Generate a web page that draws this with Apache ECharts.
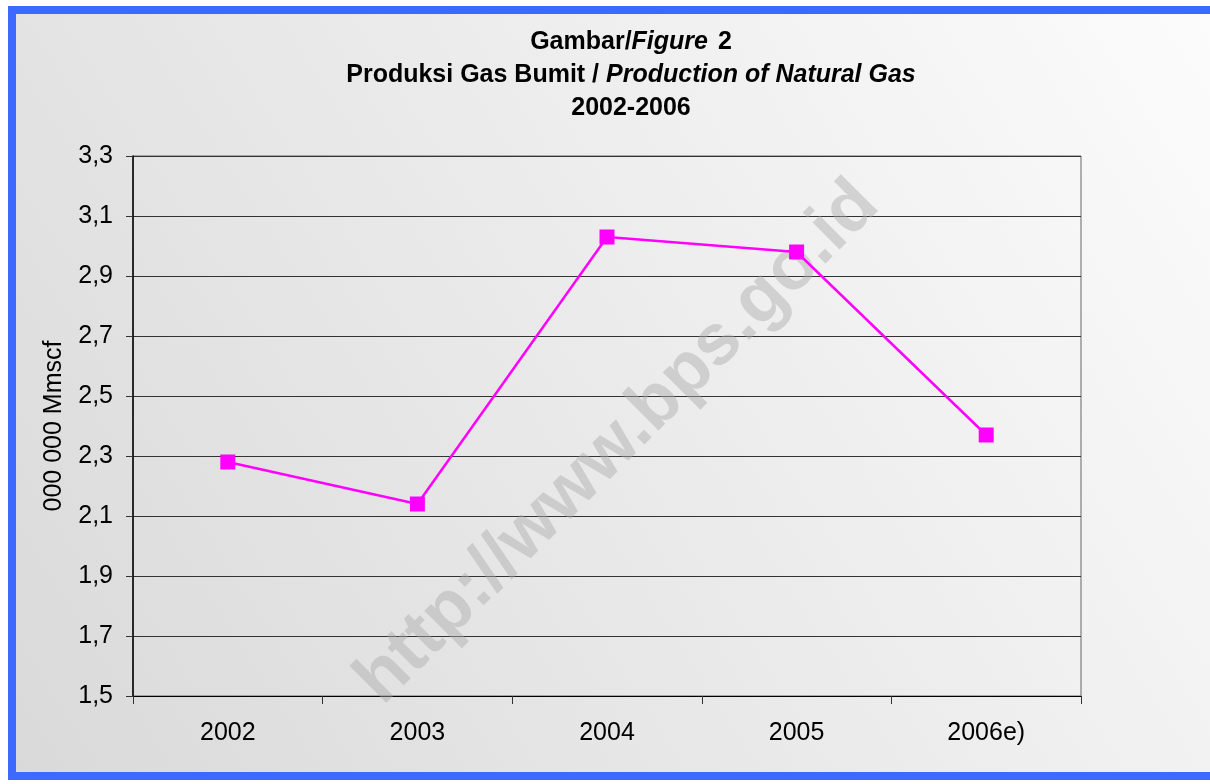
<!DOCTYPE html>
<html>
<head>
<meta charset="utf-8">
<script src="https://cdn.jsdelivr.net/npm/echarts@6/dist/echarts.min.js"></script>
<style>
  html, body { margin: 0; padding: 0; background: #ffffff; }
  #main { width: 1210px; height: 784px; }
</style>
</head>
<body>
<div id="main"></div>
<script>
const years = ['2002', '2003', '2004', '2005', '2006e)']
const production = [2.28, 2.14, 3.03, 2.98, 2.37]
const yMin = 1.5
const yMax = 3.3
const yStep = 0.2

const chart = echarts.init(document.getElementById('main'), null, { renderer: 'canvas' })

const font = '"Liberation Sans", Arial, sans-serif'

let option = {
  backgroundColor: '#ffffff',
  animation: false,
  title: {
    left: 626,
    textAlign: 'center',
    top: 21,
    textStyle: {
      fontFamily: font,
      lineHeight: 33,
      rich: {
        b: { fontSize: 25, fontWeight: 'bold', color: '#000', fontFamily: font, lineHeight: 33 },
        bi: { fontSize: 25, fontWeight: 'bold', fontStyle: 'italic', color: '#000', fontFamily: font, lineHeight: 33 },
        n: { fontSize: 25, fontWeight: 'bold', color: '#000', fontFamily: font, lineHeight: 33, padding: [0, 0, 0, 3] }
      }
    },
    text: '{b|Gambar/}{bi|Figure}{n| 2}\n{b|Produksi Gas Bumit / }{bi|Production of Natural Gas}\n{b|2002-2006}'
  },
  graphic: [
    {
      type: 'rect',
      z: -10,
      silent: true,
      shape: { x: 12, y: 10, width: 1206, height: 766 },
      style: {
        fill: new echarts.graphic.LinearGradient(1, 0, 0, 1, [
          { offset: 0, color: '#fcfcfc' },
          { offset: 1, color: '#d9d9d9' }
        ]),
        stroke: '#3d69ff',
        lineWidth: 8
      }
    },
    {
      type: 'text',
      z: 1,
      silent: true,
      x: 618,
      y: 443,
      rotation: Math.PI / 4,
      style: {
        text: 'http://www.bps.go.id',
        fontFamily: font,
        fontSize: 72,
        fontWeight: 'bold',
        fill: 'rgba(170,170,170,0.45)',
        align: 'center',
        verticalAlign: 'middle'
      }
    }
  ],
  grid: {
    left: 133,
    right: 129,
    top: 156,
    bottom: 88,
    show: true,
    borderColor: '#666',
    borderWidth: 1,
    backgroundColor: 'transparent'
  },
  xAxis: {
    type: 'category',
    data: years,
    boundaryGap: true,
    axisLine: { lineStyle: { color: '#000', width: 1 } },
    axisTick: { show: true, length: 8, lineStyle: { color: '#333' } },
    axisLabel: { fontFamily: font, fontSize: 25, color: '#000', margin: 25 }
  },
  yAxis: {
    type: 'value',
    min: yMin,
    max: yMax,
    interval: yStep,
    name: '000 000 Mmscf',
    nameLocation: 'middle',
    nameGap: 66,
    nameTextStyle: { fontFamily: font, fontSize: 25, color: '#000' },
    axisLine: { show: true, lineStyle: { color: '#000', width: 1.5 } },
    axisTick: { show: true, length: 7, lineStyle: { color: '#333' } },
    axisLabel: {
      fontFamily: font,
      fontSize: 25,
      color: '#000',
      margin: 20,
      formatter: v => v.toFixed(1).replace('.', ',')
    },
    splitLine: { show: true, lineStyle: { color: '#333', width: 1 } }
  },
  series: [{
    type: 'line',
    data: production,
    z: 5,
    symbol: 'rect',
    symbolSize: 15,
    lineStyle: { color: '#ff00ff', width: 2.5 },
    itemStyle: { color: '#ff00ff' }
  }]
}

chart.setOption(option)
</script>
</body>
</html>
